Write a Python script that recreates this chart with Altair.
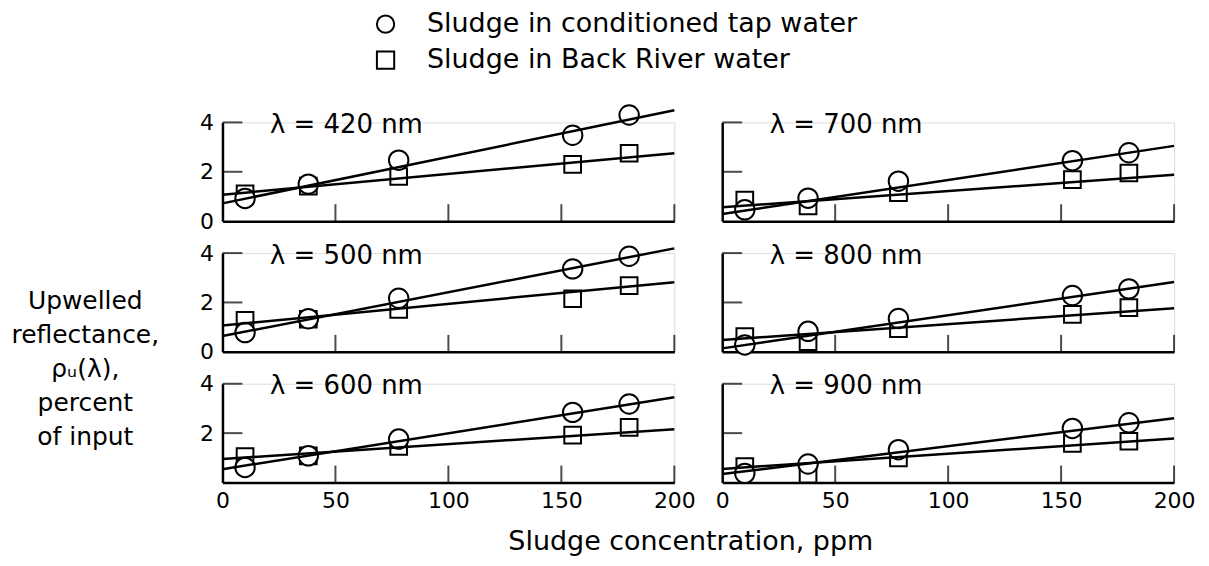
import altair as alt
import pandas as pd

# ---------------- data ----------------
conc = [10, 38, 78, 155, 180]                      # sludge concentration, ppm
wavelengths = [420, 700, 500, 800, 600, 900]       # panel order, row by row
series_names = ["Sludge in conditioned tap water", "Sludge in Back River water"]

tap = {   # circles: reflectance, percent of input
    420: [0.92, 1.50, 2.47, 3.48, 4.30],
    500: [0.78, 1.34, 2.17, 3.36, 3.87],
    600: [0.61, 1.08, 1.76, 2.84, 3.18],
    700: [0.46, 0.93, 1.62, 2.45, 2.77],
    800: [0.28, 0.83, 1.35, 2.28, 2.55],
    900: [0.37, 0.75, 1.33, 2.19, 2.42],
}
river = {  # squares
    420: [1.11, 1.42, 1.81, 2.30, 2.75],
    500: [1.28, 1.32, 1.72, 2.15, 2.68],
    600: [1.05, 1.08, 1.46, 1.92, 2.23],
    700: [0.85, 0.62, 1.15, 1.68, 1.95],
    800: [0.62, 0.41, 0.94, 1.52, 1.79],
    900: [0.64, 0.34, 1.00, 1.58, 1.67],
}
fit_conc = [0, 200]
tap_fit = {420: [0.72, 4.49], 500: [0.64, 4.19], 600: [0.54, 3.45],
           700: [0.29, 3.05], 800: [0.14, 2.83], 900: [0.34, 2.60]}
river_fit = {420: [1.07, 2.75], 500: [1.07, 2.82], 600: [0.95, 2.16],
             700: [0.56, 1.88], 800: [0.48, 1.77], 900: [0.55, 1.78]}

x_label_values = [0, 50, 100, 150, 200]
x_tick_values = [50, 100, 150, 200]
y_tick_values = [2, 4]

FONT = "DejaVu Sans"
W, H = 453, 99

xscale = alt.Scale(domain=[0, 200], nice=False, zero=False)
yscale = alt.Scale(domain=[0, 4], nice=False, zero=False)
shape_scale = alt.Scale(domain=series_names, range=["circle", "square"])

legend = alt.Legend(orient="none", legendX=150, legendY=-112,
                    labelFontSize=27, labelFont=FONT, labelColor="black",
                    labelOffset=28, labelLimit=800, symbolSize=300,
                    symbolStrokeWidth=2, symbolStrokeColor="black",
                    rowPadding=8, title=None)


def panel(wl, row, col):
    left = col == 0
    bottom = row == 2

    sq = pd.DataFrame({"conc": conc, "value": river[wl], "series": series_names[1]})
    ci = pd.DataFrame({"conc": conc, "value": tap[wl], "series": series_names[0]})
    fits = pd.DataFrame(
        {"conc": fit_conc * 2,
         "value": river_fit[wl] + tap_fit[wl],
         "series": [series_names[1]] * 2 + [series_names[0]] * 2}
    )

    x_kw = dict(values=x_label_values, labels=bottom, ticks=False, tickSize=0,
                grid=False, domainColor="black", domainWidth=2.5, labelFlush=False,
                labelFontSize=22, labelPadding=8, labelColor="black", labelFont=FONT)
    if bottom and left:
        x_kw.update(titleX=469, titleY=67, titleAlign="center",
                    titleBaseline="alphabetic", titleFontSize=27,
                    titleFontWeight="normal", titleColor="black", titleFont=FONT)
        x_title = "Sludge concentration, ppm"
    else:
        x_title = None

    y_kw = dict(values=[2, 4] if bottom else [0, 2, 4], labels=left, ticks=False,
                tickSize=0, grid=False, domainColor="black", domainWidth=2.5,
                labelFontSize=22, labelPadding=9, labelColor="black", labelFont=FONT)
    if left and row == 1:
        y_kw.update(titleAngle=0, titleX=-138, titleY=48, titleAlign="center",
                    titleBaseline="middle", titleLineHeight=34, titleFontSize=25,
                    titleFontWeight="normal", titleColor="black", titleFont=FONT)
        y_title = ["Upwelled", "reflectance,", "ρᵤ(λ),", "percent", "of input"]
    else:
        y_title = None

    X = alt.X("conc:Q", scale=xscale, axis=alt.Axis(**x_kw), title=x_title)
    Y = alt.Y("value:Q", scale=yscale, axis=alt.Axis(**y_kw), title=y_title)
    Xp = alt.X("conc:Q", scale=xscale)
    Yp = alt.Y("value:Q", scale=yscale)
    shape = alt.Shape("series:N", scale=shape_scale, legend=legend)

    # white backing so that overlapping symbols hide what is behind them
    sq_fill = alt.Chart(sq).mark_point(
        shape="square", filled=True, color="white", opacity=1, size=280, clip=False
    ).encode(x=X, y=Y)
    sq_line = alt.Chart(sq).mark_point(
        filled=False, color="black", strokeWidth=2, opacity=1, size=280, clip=False
    ).encode(x=Xp, y=Yp, shape=shape)
    ci_fill = alt.Chart(ci).mark_point(
        shape="circle", filled=True, color="white", opacity=1, size=380, clip=False
    ).encode(x=Xp, y=Yp)
    ci_line = alt.Chart(ci).mark_point(
        filled=False, color="black", strokeWidth=2, opacity=1, size=380, clip=False
    ).encode(x=Xp, y=Yp, shape=shape)

    lines = alt.Chart(fits).mark_line(color="black", strokeWidth=2.5, clip=False).encode(
        x=Xp, y=Yp, detail="series:N",
    )

    xt = alt.Chart(pd.DataFrame({"v": x_tick_values})).mark_tick(
        orient="vertical", size=17, thickness=2, color="black", yOffset=-8.5
    ).encode(x=alt.X("v:Q", scale=xscale), y=alt.datum(0))

    yt = alt.Chart(pd.DataFrame({"v": y_tick_values})).mark_tick(
        orient="horizontal", size=20, thickness=2, color="black", xOffset=10
    ).encode(y=alt.Y("v:Q", scale=yscale), x=alt.datum(0))

    lab = alt.Chart(pd.DataFrame({"t": [f"λ = {wl} nm"]})).mark_text(
        align="left", baseline="middle", fontSize=26, font=FONT, color="black"
    ).encode(x=alt.datum(21), y=alt.datum(3.9), text="t:N")

    return alt.layer(sq_fill, sq_line, ci_fill, ci_line, lines, xt, yt, lab).properties(
        width=W, height=H)


panels = []
for i, wl in enumerate(wavelengths):
    panels.append(panel(wl, i // 2, i % 2))

chart = alt.concat(
    *panels, columns=2, spacing={"row": 32, "column": 48}, bounds="flush"
).properties(
    padding={"left": 2, "top": 2, "right": 5, "bottom": 5},
    background="white",
).configure_view(stroke=None).configure(font=FONT)

chart.save("out.html", embed_options={"renderer": "svg", "actions": False})
